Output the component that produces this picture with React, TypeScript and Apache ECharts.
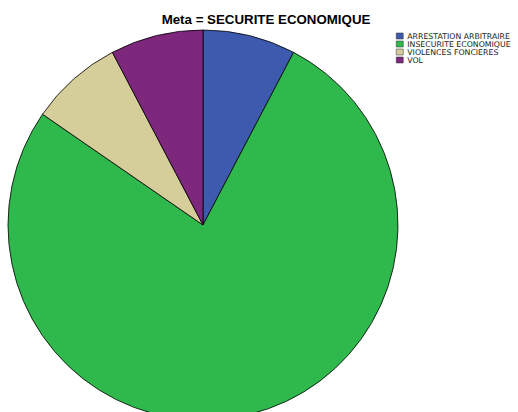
import React, { useEffect, useRef } from "react";
import * as echarts from "echarts";

const categories = ["ARRESTATION ARBITRAIRE", "INSECURITE ECONOMIQUE", "VIOLENCES FONCIERES", "VOL"];
const values = [1, 10, 1, 1];
const colors = ["#3d5aae", "#2fb84b", "#d5cd9a", "#7d287d"];
const titleText = "Meta = SECURITE ECONOMIQUE";

export default function App() {
  const ref = useRef<HTMLDivElement>(null);
  useEffect(() => {
    if (!ref.current) return;
    const chart = echarts.init(ref.current, null, { renderer: "svg" });
    chart.setOption({
      animation: false,
      backgroundColor: "#ffffff",
      title: {
        text: titleText,
        left: 266,
        top: 13,
        padding: 0,
        textAlign: "center",
        textStyle: { fontFamily: "Liberation Sans", fontSize: 13.3, fontWeight: "bold", color: "#000" },
      },
      legend: {
        orient: "vertical",
        left: 396,
        top: 32,
        padding: 0,
        itemWidth: 7,
        itemHeight: 6,
        itemGap: 0,
        icon: "rect",
        textStyle: { fontFamily: "DejaVu Sans", fontSize: 7.8, lineHeight: 7.5, color: "#222", padding: [0, 0, 0, -1] },
        itemStyle: { borderColor: "#333", borderWidth: 0.5 },
        data: categories,
      },
      series: [
        {
          type: "pie",
          center: [203, 225],
          radius: 195,
          startAngle: 90,
          clockwise: true,
          label: { show: false },
          labelLine: { show: false },
          itemStyle: { borderColor: "#000", borderWidth: 0.8 },
          emphasis: { disabled: true },
          data: categories.map((c, i) => ({ name: c, value: values[i], itemStyle: { color: colors[i] } })),
        },
      ],
    });
    return () => chart.dispose();
  }, []);
  return <div ref={ref} style={{ position: "fixed", left: 0, top: 0, width: 518, height: 412 }} />;
}
